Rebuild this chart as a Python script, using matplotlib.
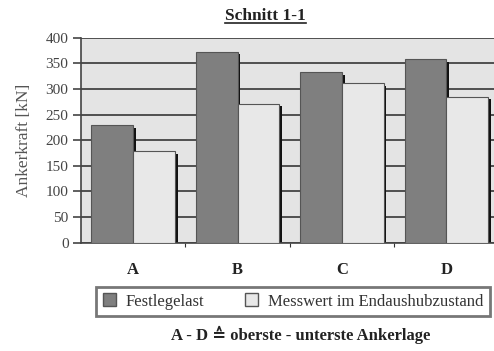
import matplotlib
matplotlib.use("Agg")
import matplotlib.pyplot as plt
import numpy as np
from matplotlib.patches import Patch
from matplotlib.lines import Line2D

# Ankerkräfte je Ankerlage
lagen = ["A", "B", "C", "D"]
festlegelast = [229, 373, 333, 358]
messwert = [178, 271, 311, 285]
serien = ["Festlegelast", "Messwert im Endaushubzustand"]

plt.rcParams["font.family"] = ["Liberation Serif", "DejaVu Serif", "DejaVu Sans",
                               "Noto Sans CJK SC"]

fig = plt.figure(figsize=(4.94, 3.51), dpi=100)
ax = fig.add_axes([0.164, 0.3085, 0.845, 0.584])

x = np.arange(len(lagen))
breite = 0.40
dx, dy = 0.025, 5  # Versatz des Schattens

farbe_dunkel = "#7f7f7f"
farbe_hell = "#e8e8e8"

ax.set_facecolor("#e4e4e4")
# Schatten hinter den Säulen
ax.bar(x - 0.2 + dx, np.array(festlegelast) - dy, breite, color="#111111", zorder=2)
ax.bar(x + 0.2 + dx, np.array(messwert) - dy, breite, color="#111111", zorder=2)
ax.bar(x - 0.2, festlegelast, breite, color=farbe_dunkel, edgecolor="#555555",
       linewidth=0.8, zorder=3)
ax.bar(x + 0.2, messwert, breite, color=farbe_hell, edgecolor="#555555",
       linewidth=0.8, zorder=3)

ax.set_xlim(-0.5, 3.5)
ax.set_ylim(0, 400)
ax.set_yticks(np.arange(0, 401, 50))
ax.yaxis.grid(True, color="#444444", linewidth=1.3, zorder=1)
ax.set_axisbelow(True)

ax.set_xticks(x + 0.5)
ax.set_xticklabels([])
ax.tick_params(axis="x", length=3, width=0.8, color="#333333")
ax.tick_params(axis="y", length=6, width=1.2, color="#444444",
               labelsize=11, labelcolor="#444444", pad=3)
for lab, xi in zip(lagen, x):
    ax.text(xi, -53, lab, ha="center", va="center", fontsize=12,
            fontweight="bold", color="#222222")

for s in ["top", "right"]:
    ax.spines[s].set_visible(False)
ax.spines["left"].set_color("#444444")
ax.spines["left"].set_linewidth(1.2)
ax.spines["bottom"].set_color("#444444")
ax.spines["bottom"].set_linewidth(1.2)

ax.set_ylabel("Ankerkraft [kN]", fontsize=12.5, color="#555555", labelpad=10)

titel = fig.text(265.5 / 494, 0.955, "Schnitt 1-1", ha="center", va="center",
                 fontsize=12.5, fontweight="bold", color="#222222")
fig.canvas.draw()
bb = titel.get_window_extent(fig.canvas.get_renderer()).transformed(fig.transFigure.inverted())
fig.add_artist(Line2D([bb.x0, bb.x1], [bb.y0 + 0.002, bb.y0 + 0.002],
                      transform=fig.transFigure, color="#222222", linewidth=1.2))

handles = [Patch(facecolor=farbe_dunkel, edgecolor="#555555"),
           Patch(facecolor=farbe_hell, edgecolor="#555555")]
leg = fig.legend(handles, serien, loc="center",
                 bbox_to_anchor=(293 / 494, (351 - 301.5) / 351), ncol=2,
                 fontsize=12, frameon=True, fancybox=False,
                 handlelength=0.8, handleheight=0.8, handletextpad=0.6,
                 columnspacing=2.4, borderpad=0.4)
leg.get_frame().set_edgecolor("#555555")
leg.get_frame().set_linewidth(2.0)
for t in leg.get_texts():
    t.set_color("#333333")

fig.text(301 / 494, (351 - 335) / 351, "A - D \u2259 oberste - unterste Ankerlage",
         ha="center", va="center", fontsize=12, fontweight="bold", color="#222222")

fig.savefig("out.png", dpi=100)
